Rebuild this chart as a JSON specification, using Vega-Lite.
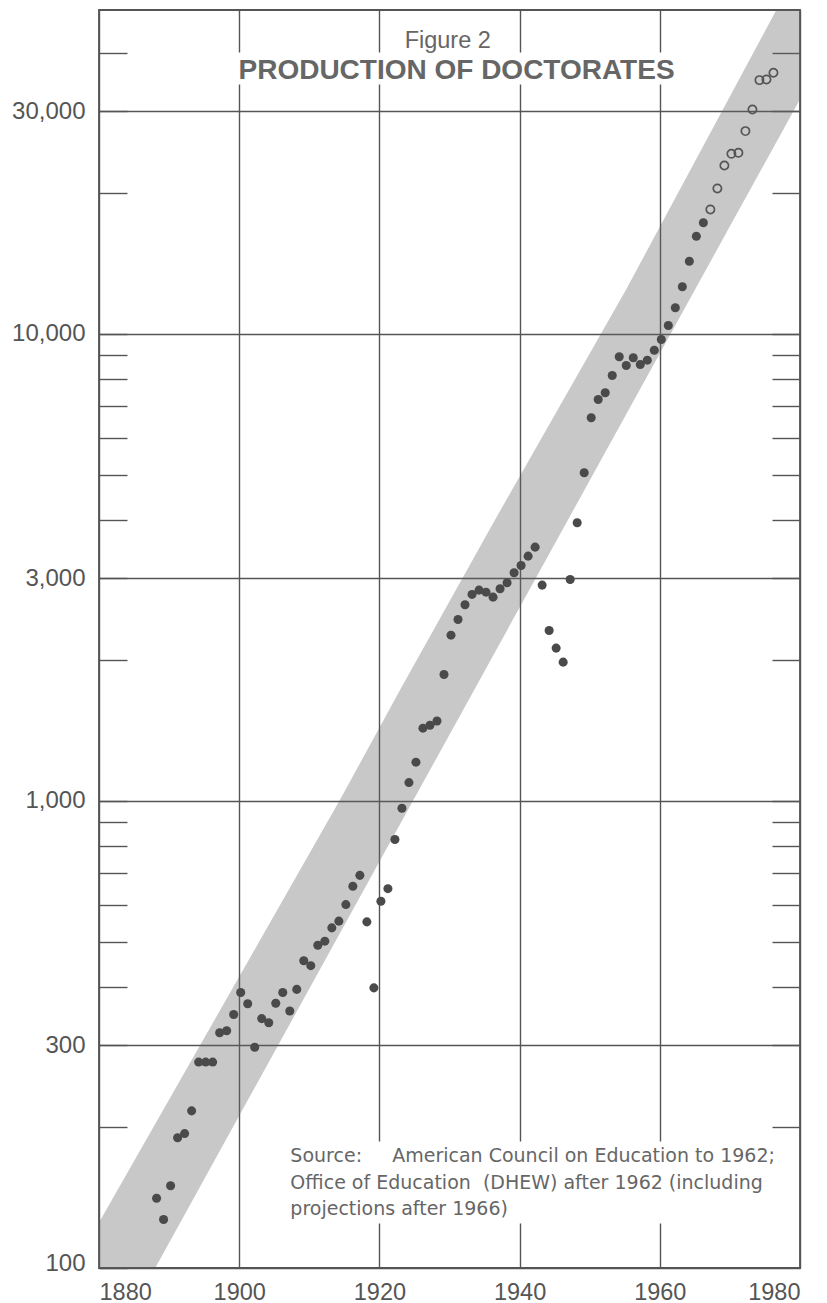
{
  "$schema": "https://vega.github.io/schema/vega-lite/v6.json",
  "width": 701,
  "height": 1258,
  "autosize": "none",
  "padding": {"left": 99, "top": 10, "right": 27, "bottom": 35},
  "background": "white",
  "config": {
    "font": "Liberation Sans",
    "view": {"stroke": "#555555", "strokeWidth": 1.8},
    "axisX": {"grid": true, "gridColor": "#555555", "gridWidth": 1.4, "ticks": false, "domain": false, "tickCount": 5, "format": "d", "labelFontSize": 23.5, "labelColor": "#555555", "labelPadding": 12, "labelFont": "Liberation Sans"},
    "axisY": {"domain": false}
  },
  "datasets": {
    "doctorates": [
      {"year": 1888, "doctorates": 141, "status": "actual"},
      {"year": 1889, "doctorates": 127, "status": "actual"},
      {"year": 1890, "doctorates": 150, "status": "actual"},
      {"year": 1891, "doctorates": 190, "status": "actual"},
      {"year": 1892, "doctorates": 194, "status": "actual"},
      {"year": 1893, "doctorates": 217, "status": "actual"},
      {"year": 1894, "doctorates": 276, "status": "actual"},
      {"year": 1895, "doctorates": 276, "status": "actual"},
      {"year": 1896, "doctorates": 276, "status": "actual"},
      {"year": 1897, "doctorates": 319, "status": "actual"},
      {"year": 1898, "doctorates": 322, "status": "actual"},
      {"year": 1899, "doctorates": 349, "status": "actual"},
      {"year": 1900, "doctorates": 389, "status": "actual"},
      {"year": 1901, "doctorates": 368, "status": "actual"},
      {"year": 1902, "doctorates": 297, "status": "actual"},
      {"year": 1903, "doctorates": 342, "status": "actual"},
      {"year": 1904, "doctorates": 335, "status": "actual"},
      {"year": 1905, "doctorates": 369, "status": "actual"},
      {"year": 1906, "doctorates": 389, "status": "actual"},
      {"year": 1907, "doctorates": 355, "status": "actual"},
      {"year": 1908, "doctorates": 395, "status": "actual"},
      {"year": 1909, "doctorates": 455, "status": "actual"},
      {"year": 1910, "doctorates": 444, "status": "actual"},
      {"year": 1911, "doctorates": 491, "status": "actual"},
      {"year": 1912, "doctorates": 501, "status": "actual"},
      {"year": 1913, "doctorates": 535, "status": "actual"},
      {"year": 1914, "doctorates": 553, "status": "actual"},
      {"year": 1915, "doctorates": 600, "status": "actual"},
      {"year": 1916, "doctorates": 657, "status": "actual"},
      {"year": 1917, "doctorates": 693, "status": "actual"},
      {"year": 1918, "doctorates": 551, "status": "actual"},
      {"year": 1919, "doctorates": 398, "status": "actual"},
      {"year": 1920, "doctorates": 610, "status": "actual"},
      {"year": 1921, "doctorates": 649, "status": "actual"},
      {"year": 1922, "doctorates": 827, "status": "actual"},
      {"year": 1923, "doctorates": 965, "status": "actual"},
      {"year": 1924, "doctorates": 1095, "status": "actual"},
      {"year": 1925, "doctorates": 1211, "status": "actual"},
      {"year": 1926, "doctorates": 1432, "status": "actual"},
      {"year": 1927, "doctorates": 1453, "status": "actual"},
      {"year": 1928, "doctorates": 1483, "status": "actual"},
      {"year": 1929, "doctorates": 1866, "status": "actual"},
      {"year": 1930, "doctorates": 2265, "status": "actual"},
      {"year": 1931, "doctorates": 2447, "status": "actual"},
      {"year": 1932, "doctorates": 2631, "status": "actual"},
      {"year": 1933, "doctorates": 2769, "status": "actual"},
      {"year": 1934, "doctorates": 2828, "status": "actual"},
      {"year": 1935, "doctorates": 2800, "status": "actual"},
      {"year": 1936, "doctorates": 2732, "status": "actual"},
      {"year": 1937, "doctorates": 2848, "status": "actual"},
      {"year": 1938, "doctorates": 2933, "status": "actual"},
      {"year": 1939, "doctorates": 3081, "status": "actual"},
      {"year": 1940, "doctorates": 3194, "status": "actual"},
      {"year": 1941, "doctorates": 3344, "status": "actual"},
      {"year": 1942, "doctorates": 3496, "status": "actual"},
      {"year": 1943, "doctorates": 2899, "status": "actual"},
      {"year": 1944, "doctorates": 2318, "status": "actual"},
      {"year": 1945, "doctorates": 2125, "status": "actual"},
      {"year": 1946, "doctorates": 1983, "status": "actual"},
      {"year": 1947, "doctorates": 2981, "status": "actual"},
      {"year": 1948, "doctorates": 3942, "status": "actual"},
      {"year": 1949, "doctorates": 5043, "status": "actual"},
      {"year": 1950, "doctorates": 6615, "status": "actual"},
      {"year": 1951, "doctorates": 7240, "status": "actual"},
      {"year": 1952, "doctorates": 7484, "status": "actual"},
      {"year": 1953, "doctorates": 8150, "status": "actual"},
      {"year": 1954, "doctorates": 8939, "status": "actual"},
      {"year": 1955, "doctorates": 8561, "status": "actual"},
      {"year": 1956, "doctorates": 8894, "status": "actual"},
      {"year": 1957, "doctorates": 8604, "status": "actual"},
      {"year": 1958, "doctorates": 8789, "status": "actual"},
      {"year": 1959, "doctorates": 9232, "status": "actual"},
      {"year": 1960, "doctorates": 9731, "status": "actual"},
      {"year": 1961, "doctorates": 10428, "status": "actual"},
      {"year": 1962, "doctorates": 11379, "status": "actual"},
      {"year": 1963, "doctorates": 12620, "status": "actual"},
      {"year": 1964, "doctorates": 14316, "status": "actual"},
      {"year": 1965, "doctorates": 16195, "status": "actual"},
      {"year": 1966, "doctorates": 17301, "status": "actual"},
      {"year": 1967, "doctorates": 18480, "status": "projected"},
      {"year": 1968, "doctorates": 20495, "status": "projected"},
      {"year": 1969, "doctorates": 22950, "status": "projected"},
      {"year": 1970, "doctorates": 24310, "status": "projected"},
      {"year": 1971, "doctorates": 24430, "status": "projected"},
      {"year": 1972, "doctorates": 27190, "status": "projected"},
      {"year": 1973, "doctorates": 30250, "status": "projected"},
      {"year": 1974, "doctorates": 34960, "status": "projected"},
      {"year": 1975, "doctorates": 35080, "status": "projected"},
      {"year": 1976, "doctorates": 36260, "status": "projected"}
    ],
    "band": [
      {"v": 85.6, "lo": 1873.67, "hi": 1885.53},
      {"v": 125.1, "lo": 1880.0, "hi": 1891.6},
      {"v": 457.8, "lo": 1901.4, "hi": 1912.3},
      {"v": 1007, "lo": 1914.4, "hi": 1924.89},
      {"v": 1733, "lo": 1922.98, "hi": 1933.56},
      {"v": 4007, "lo": 1936.52, "hi": 1946.93},
      {"v": 12455, "lo": 1955.2, "hi": 1965.03},
      {"v": 57420, "lo": 1978.96, "hi": 1989.44}
    ]
  },
  "layer": [
    {
      "data": {"name": "band"},
      "mark": {"type": "area", "orient": "horizontal", "fill": "#626262", "fillOpacity": 0.35, "clip": true, "interpolate": "linear"},
      "encoding": {
        "y": {
          "field": "v", "type": "quantitative",
          "scale": {"type": "log", "domain": [100, 49400], "nice": false},
          "axis": {
            "orient": "left", "title": null,
            "values": [100, 200, 300, 400, 500, 600, 700, 800, 900, 1000, 2000, 3000, 4000, 5000, 6000, 7000, 8000, 9000, 10000, 20000, 30000, 40000],
            "labelExpr": "indexof([100,300,1000,3000,10000,30000], datum.value) >= 0 ? format(datum.value, ',') : ''",
            "grid": true, "gridColor": "#555555", "gridWidth": 1.4,
            "gridOpacity": {"condition": {"test": "indexof([100,300,1000,3000,10000,30000], datum.value) >= 0", "value": 1}, "value": 0},
            "labelOffset": {"condition": {"test": "datum.value == 100", "value": -5}, "value": 0},
            "tickSize": -28, "tickColor": "#555555", "tickWidth": 1.4,
            "labelFontSize": 24, "labelColor": "#555555", "labelPadding": 42, "labelFont": "Liberation Sans", "domain": false
          }
        },
        "x": {"field": "lo", "type": "quantitative", "scale": {"domain": [1880, 1980], "nice": false, "zero": false}, "title": null},
        "x2": {"field": "hi"}
      }
    },
    {
      "data": {"values": [{}]},
      "mark": {"type": "rect", "fill": "white"},
      "encoding": {
        "x": {"datum": 1898.9}, "x2": {"datum": 1963.0},
        "y": {"datum": 40060, "axis": null}, "y2": {"datum": 34220}
      }
    },
    {
      "data": {"values": [{}]},
      "mark": {"type": "rect", "fill": "white"},
      "encoding": {
        "x": {"datum": 1906.0}, "x2": {"datum": 1977.5},
        "y": {"datum": 186.6, "axis": null}, "y2": {"datum": 124.5}
      }
    },
    {
      "data": {"name": "doctorates"},
      "transform": [{"filter": "datum.status == 'actual'"}],
      "mark": {"type": "circle", "size": 82, "fill": "#4a4a4a", "opacity": 1, "xOffset": 1.5},
      "encoding": {
        "x": {"field": "year", "type": "quantitative", "title": null},
        "y": {
          "field": "doctorates", "type": "quantitative",
          "axis": {
            "orient": "right", "title": null,
            "values": [200, 300, 400, 500, 600, 700, 800, 900, 1000, 2000, 3000, 4000, 5000, 6000, 7000, 8000, 9000, 10000, 20000, 30000, 40000],
            "labels": false, "grid": false, "domain": false,
            "tickSize": -28, "tickColor": "#555555", "tickWidth": 1.4
          }
        }
      }
    },
    {
      "data": {"name": "doctorates"},
      "transform": [{"filter": "datum.status == 'projected'"}],
      "mark": {"type": "point", "shape": "circle", "filled": false, "size": 68, "stroke": "#555555", "strokeWidth": 1.7, "opacity": 1, "xOffset": 1.5},
      "encoding": {
        "x": {"field": "year", "type": "quantitative", "title": null},
        "y": {"field": "doctorates", "type": "quantitative", "axis": null}
      }
    },
    {
      "data": {"values": [{}]},
      "mark": {"type": "text", "text": "Figure 2", "fontSize": 23.5, "fill": "#666666", "align": "center", "baseline": "alphabetic", "font": "Liberation Sans"},
      "encoding": {"x": {"datum": 1929.75}, "y": {"datum": 41000, "axis": null}}
    },
    {
      "data": {"values": [{}]},
      "mark": {"type": "text", "text": "PRODUCTION OF DOCTORATES", "fontSize": 28, "fontWeight": "bold", "fill": "#666666", "align": "center", "baseline": "alphabetic", "font": "Liberation Sans"},
      "encoding": {"x": {"datum": 1931.0}, "y": {"datum": 35080, "axis": null}}
    },
    {
      "data": {"values": [{}]},
      "mark": {
        "type": "text",
        "text": ["Source:\u00a0\u00a0\u00a0\u00a0 American Council on Education to 1962;", "Office of Education\u00a0 (DHEW) after 1962 (including", "projections after 1966)"],
        "fontSize": 19, "lineHeight": 26.5, "fill": "#666666", "align": "left", "baseline": "alphabetic", "font": "DejaVu Sans"
      },
      "encoding": {"x": {"datum": 1907.3}, "y": {"datum": 168.5, "axis": null}}
    }
  ],
  "resolve": {"axis": {"y": "independent"}}
}
